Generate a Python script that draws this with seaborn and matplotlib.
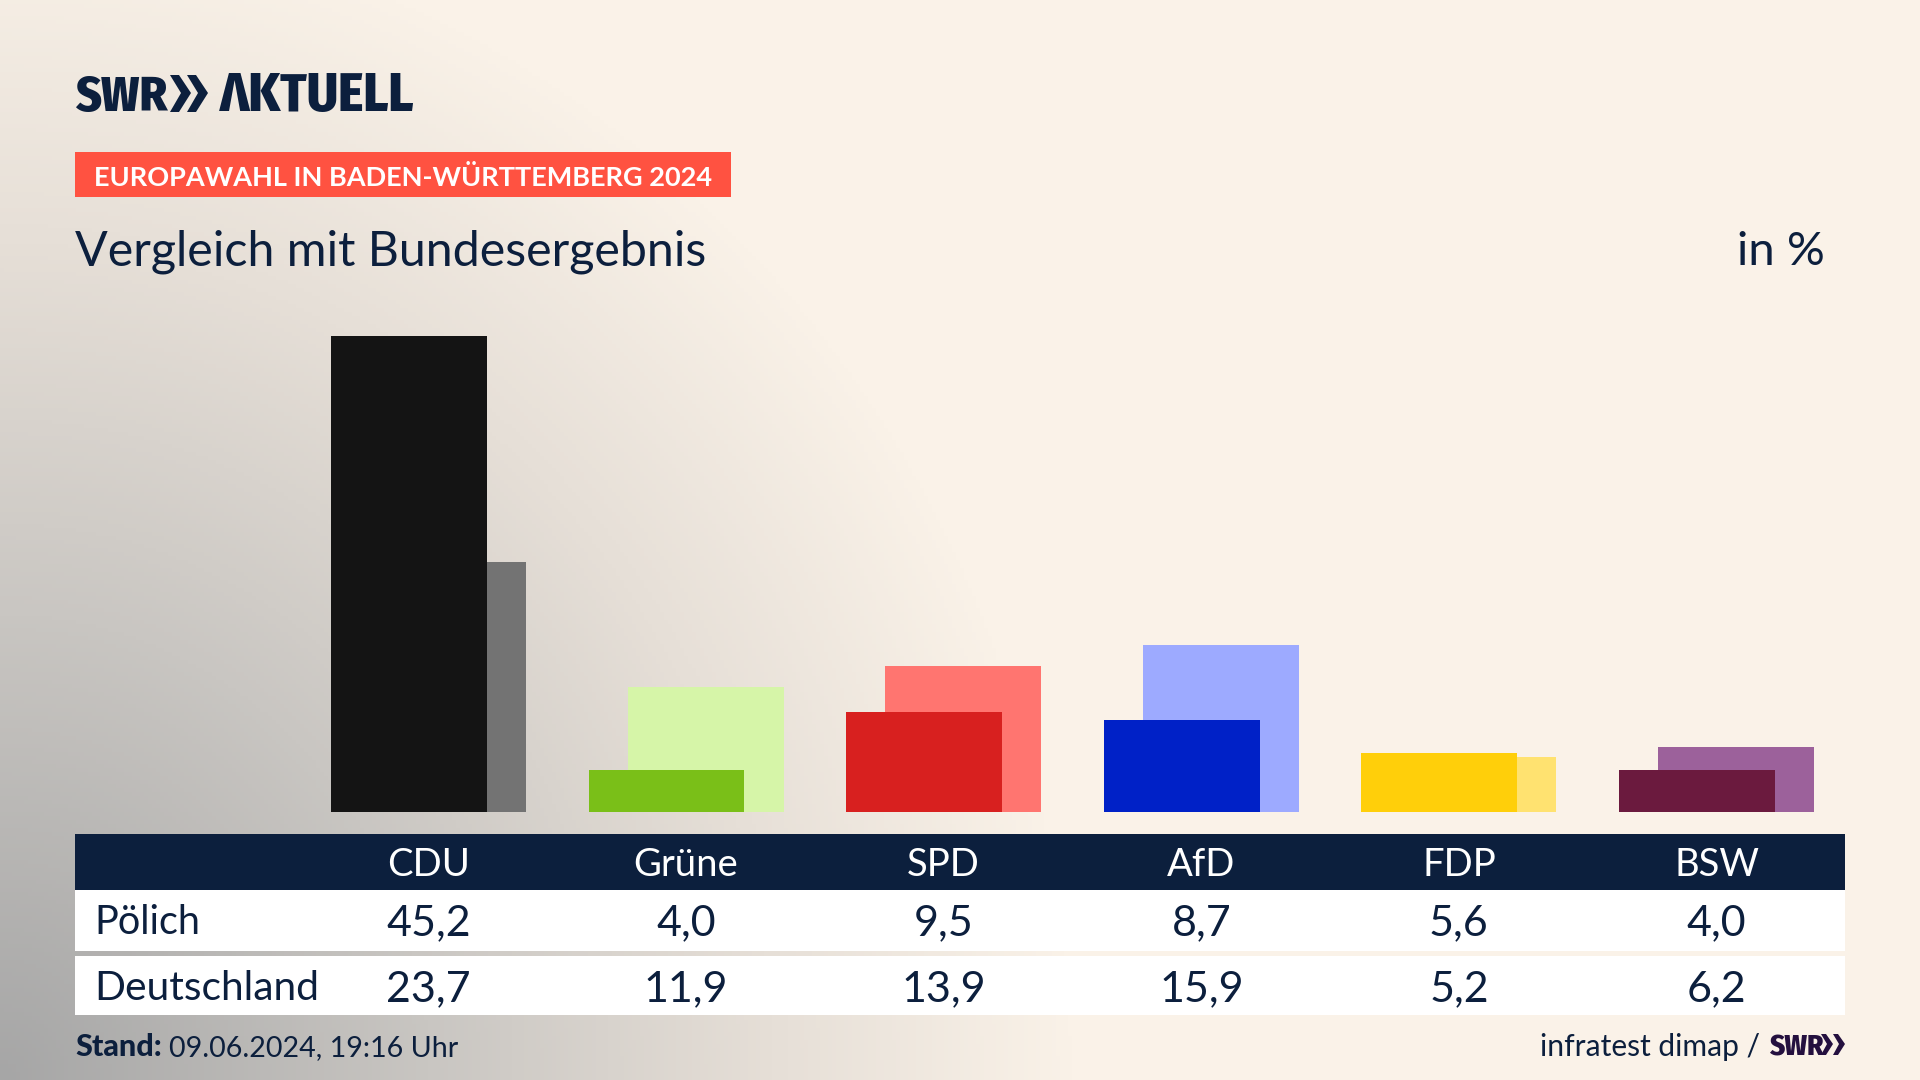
import matplotlib.pyplot as plt
from matplotlib.colors import LinearSegmentedColormap
from matplotlib.patches import Polygon, Rectangle
import numpy as np
import pandas as pd
import seaborn as sns

parteien = ["CDU", "Grüne", "SPD", "AfD", "FDP", "BSW"]
poelich = [45.2, 4.0, 9.5, 8.7, 5.6, 4.0]
deutschland = [23.7, 11.9, 13.9, 15.9, 5.2, 6.2]

farben_poelich = ["#141414", "#7abf18", "#d8201f", "#0021c7", "#ffcf0a", "#6b1a3e"]
farben_deutschland = ["#737373", "#d6f5a8", "#ff7570", "#9daaff", "#ffe270", "#9c619b"]

NAVY = "#0c1f3d"
CREME = "#faf2e8"
LOGO = ["Fira Sans Condensed", "Lato", "DejaVu Sans"]
X0 = 428.5
STEP = 257.6

sns.set_theme(style="white")
plt.rcParams["font.family"] = ["Lato", "DejaVu Sans"]

fig = plt.figure(figsize=(19.2, 10.8), dpi=100)

# hintergrund und texte in pixelkoordinaten
ax = fig.add_axes([0, 0, 1, 1])
ax.set_xlim(0, 1920)
ax.set_ylim(1080, 0)
ax.axis("off")

xx, yy = np.meshgrid(np.linspace(0, 1, 480), np.linspace(0, 1, 270))
d = np.sqrt((xx / 0.56) ** 2 + ((1 - yy) / 1.08) ** 2)
grad = np.clip(d, 0, 1)
cmap = LinearSegmentedColormap.from_list(
    "bg", [(0, "#a6a6a6"), (0.4, "#c9c6c2"), (0.72, "#e6dfd7"), (1, CREME)]
)
ax.imshow(grad, cmap=cmap, vmin=0, vmax=1, extent=(0, 1920, 1080, 0), aspect="auto", zorder=0)

# logo
ax.text(75, 111, "SWR", fontsize=35.5, fontweight="heavy", family=LOGO, color=NAVY, va="baseline")
for x0 in (170, 187):
    ax.add_patch(Polygon([(x0, 75), (x0 + 9, 75), (x0 + 21, 93), (x0 + 9, 112), (x0, 112), (x0 + 11, 93)],
                         color=NAVY, lw=0, zorder=2))
ax.text(220, 111, "ΛKTUELL", fontsize=38.5, fontweight="heavy", family=LOGO, color=NAVY, va="baseline")

# kategorie + titel
ax.add_patch(Rectangle((75, 152), 656, 45, color="#ff5241", lw=0, zorder=1))
ax.text(94, 175, "EUROPAWAHL IN BADEN-WÜRTTEMBERG 2024", fontsize=19.5, fontweight="bold",
        color="white", va="center_baseline")
ax.text(75, 265, "Vergleich mit Bundesergebnis", fontsize=34.8, color=NAVY, va="baseline")
ax.text(1825, 265, "in %", fontsize=34, color=NAVY, va="baseline", ha="right")

# tabelle
ax.add_patch(Rectangle((75, 834), 1770, 56, color=NAVY, lw=0, zorder=1))
ax.add_patch(Rectangle((75, 890), 1770, 61, color="white", lw=0, zorder=1))
ax.add_patch(Rectangle((75, 956), 1770, 59, color="white", lw=0, zorder=1))
ax.text(94, 934, "Pölich", fontsize=28.5, color=NAVY, va="baseline")
ax.text(94, 1000, "Deutschland", fontsize=29.3, color=NAVY, va="baseline")
for i, partei in enumerate(parteien):
    x = X0 + STEP * i
    ax.text(x, 876, partei, fontsize=27.5, color="white", ha="center", va="baseline")
    ax.text(x, 935, f"{poelich[i]:.1f}".replace(".", ","), fontsize=31, color=NAVY, ha="center", va="baseline")
    ax.text(x, 1001, f"{deutschland[i]:.1f}".replace(".", ","), fontsize=31, color=NAVY, ha="center", va="baseline")

# fusszeile
ax.text(75, 1056, "Stand:", fontsize=22, fontweight="black", color=NAVY, va="baseline")
ax.text(169, 1056, "09.06.2024, 19:16 Uhr", fontsize=20.6, color=NAVY, va="baseline")
ax.text(1760, 1056, "infratest dimap /", fontsize=21.6, color=NAVY, va="baseline", ha="right")
ax.text(1769, 1055, "SWR", fontsize=21, fontweight="heavy", family=LOGO, color="#24103f", va="baseline")
for x0 in (1821, 1833):
    ax.add_patch(Polygon([(x0, 1034), (x0 + 5, 1034), (x0 + 12, 1044), (x0 + 5, 1055), (x0, 1055), (x0 + 6, 1044)],
                         color="#24103f", lw=0, zorder=2))

# balken, gleiche skala wie die tabellenspalten
ax_b = fig.add_axes([0, 0, 1, 1])
ax_b.patch.set_alpha(0)
pos = np.arange(len(parteien))
df = pd.DataFrame({"partei": parteien, "pos": pos, "poelich": poelich, "deutschland": deutschland})
sns.barplot(data=df.assign(x=df["pos"] + 0.076), x="x", y="deutschland", hue="partei", palette=farben_deutschland,
            native_scale=True, dodge=False, width=0.605, saturation=1, legend=False, linewidth=0, ax=ax_b)
sns.barplot(data=df.assign(x=df["pos"] - 0.076), x="x", y="poelich", hue="partei", palette=farben_poelich,
            native_scale=True, dodge=False, width=0.605, saturation=1, legend=False, linewidth=0, ax=ax_b)
ax_b.set_xlim(-X0 / STEP, (1920 - X0) / STEP)
ax_b.set_ylim(-(1080 - 812) / 10.53, 812 / 10.53)
ax_b.axis("off")

fig.savefig("out.png", dpi=100)
